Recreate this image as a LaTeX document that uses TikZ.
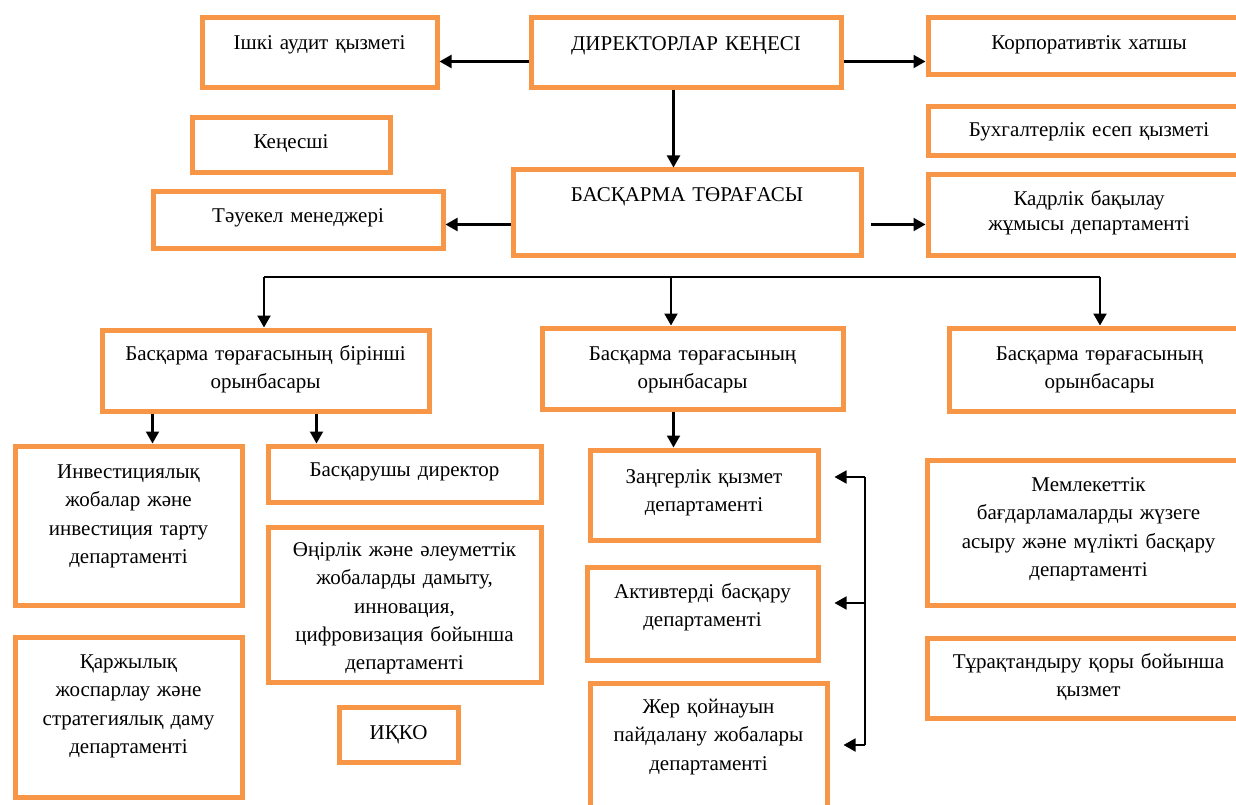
\documentclass[tikz,border=0pt]{standalone}
\usepackage{fontspec}
\setmainfont{Liberation Serif}
\usetikzlibrary{arrows.meta}
\definecolor{boxorange}{RGB}{247,150,70}

\begin{document}
\begin{tikzpicture}[x=1pt, y=-1pt,
  box/.style={draw=boxorange, line width=5pt, anchor=north west, inner xsep=2pt,
    inner ysep=0pt, align=center, font=\fontsize{21}{28.3}\selectfont},
  arr/.style={line width=2.2pt, -{Triangle[length=12pt,width=13pt]}},
  side/.style={line width=1.8pt, shorten >=14pt, -{Triangle[length=12pt,width=13pt]}},
  bus/.style={line width=1.6pt}]
\useasboundingbox (0,0) rectangle (1236,805);
\clip (0,0) rectangle (1236,805);

\node[box, text width=306, text height=32.5, text depth=37.5] (board) at (528.5,15.5) {ДИРЕКТОРЛАР КЕҢЕСІ};
\node[box, text width=231, text height=31.5, text depth=38.5] (audit) at (199.5,15.5) {Ішкі аудит қызметі};
\node[box, text width=318, text height=31.5, text depth=25.5] (corp) at (925.5,15.5) {Корпоративтік хатшы};
\node[box, text width=194, text height=30.5, text depth=24.5] (advisor) at (189.5,115.5) {Кеңесші};
\node[box, text width=318, text height=29.5, text depth=19.5] (acct) at (925.5,104.5) {Бухгалтерлік есеп қызметі};
\node[box, text width=286, text height=30.5, text depth=25.5] (risk) at (150.5,189.5) {Тәуекел менеджері};
\node[box, text width=344, text height=31.5, text depth=53.5] (chair) at (510.5,167.5) {БАСҚАРМА ТӨРАҒАСЫ};
\node[box, text width=318, text height=30.5, text depth=49.5] (hr) at (925.5,172.5) {Кадрлік бақылау\\[-3pt] жұмысы департаменті};

\node[box, text width=323, text height=30.5, text depth=50.5] (dep1) at (99.5,327.5) {Басқарма төрағасының бірінші\\ орынбасары};
\node[box, text width=297, text height=32.5, text depth=48.5] (dep2) at (539.5,325.5) {Басқарма төрағасының\\ орынбасары};
\node[box, text width=297, text height=32.5, text depth=50.5] (dep3) at (946.5,325.5) {Басқарма төрағасының\\ орынбасары};

\node[box, text width=223, text height=32.5, text depth=126.5] (invest) at (12.5,443.5) {Инвестициялық\\ жобалар және\\ инвестиция тарту\\ департаменті};
\node[box, text width=223, text height=31.5, text depth=128.5] (finance) at (12.5,634.5) {Қаржылық\\ жоспарлау және\\ стратегиялық даму\\ департаменті};
\node[box, text width=269, text height=30.5, text depth=25.5] (mgdir) at (265.5,443.5) {Басқарушы директор};
\node[box, text width=269, text height=29.5, text depth=125.5] (regional) at (265.5,524.5) {Өңірлік және әлеуметтік\\ жобаларды  дамыту,\\ инновация,\\ цифровизация бойынша\\ департаменті};
\node[box, text width=115, text height=32.5, text depth=22.5] (ikko) at (336.5,704.5) {ИҚКО};

\node[box, text width=224, text height=33.5, text depth=56.5] (legal) at (587.5,447.5) {Заңгерлік қызмет\\ департаменті};
\node[box, text width=227, text height=31.5, text depth=61.5] (assets) at (584.5,564.5) {Активтерді басқару\\ департаменті};
\node[box, text width=233, text height=30.5, text depth=116.5] (subsoil) at (587.5,680.5) {Жер қойнауын\\ пайдалану жобалары\\ департаменті};

\node[box, text width=319, text height=31.5, text depth=113.5] (state) at (924.5,457.5) {Мемлекеттік\\ бағдарламаларды жүзеге\\ асыру және мүлікті басқару\\ департаменті};
\node[box, text width=319, text height=30.5, text depth=49.5] (stab) at (924.5,635.5) {Тұрақтандыру қоры бойынша\\ қызмет};

\coordinate (busL) at (264,277);
\coordinate (busM) at (671,277);
\coordinate (busR) at (1100,277);
\coordinate (brTop) at (865,477);
\coordinate (brMid) at (865,603);
\coordinate (brBot) at (865,745);

\path[arr]
([yshift=-8.5pt]board.west) edge ([yshift=-8.5pt]board.west -| audit.east)
([yshift=-8.5pt]board.east) edge ([yshift=-8.5pt]board.east -| corp.west)
([xshift=-12.5pt]board.south) edge ([xshift=-12.5pt]board.south |- chair.north)
([yshift=-12pt]chair.west) edge ([yshift=-12pt]chair.west -| risk.east)
([yshift=-12pt]chair.east) edge[shorten <=7pt] ([yshift=-12pt]chair.east -| hr.west)
(busL) edge (busL |- dep1.north)
(busM) edge (busM |- dep2.north)
(busR) edge (busR |- dep3.north)
([xshift=-113pt]dep1.south) edge ([xshift=-113pt]dep1.south |- invest.north)
([xshift=51pt]dep1.south) edge ([xshift=51pt]dep1.south |- mgdir.north)
([xshift=-19pt]dep2.south) edge ([xshift=-19pt]dep2.south |- legal.north);

\draw[bus] (busL) -- (busR);
\draw[bus] (brTop) -- (brBot);
\path[side]
(brTop) edge (brTop -| legal.east)
(brMid) edge (brMid -| assets.east)
(brBot) edge (brBot -| subsoil.east);
\end{tikzpicture}
\end{document}
